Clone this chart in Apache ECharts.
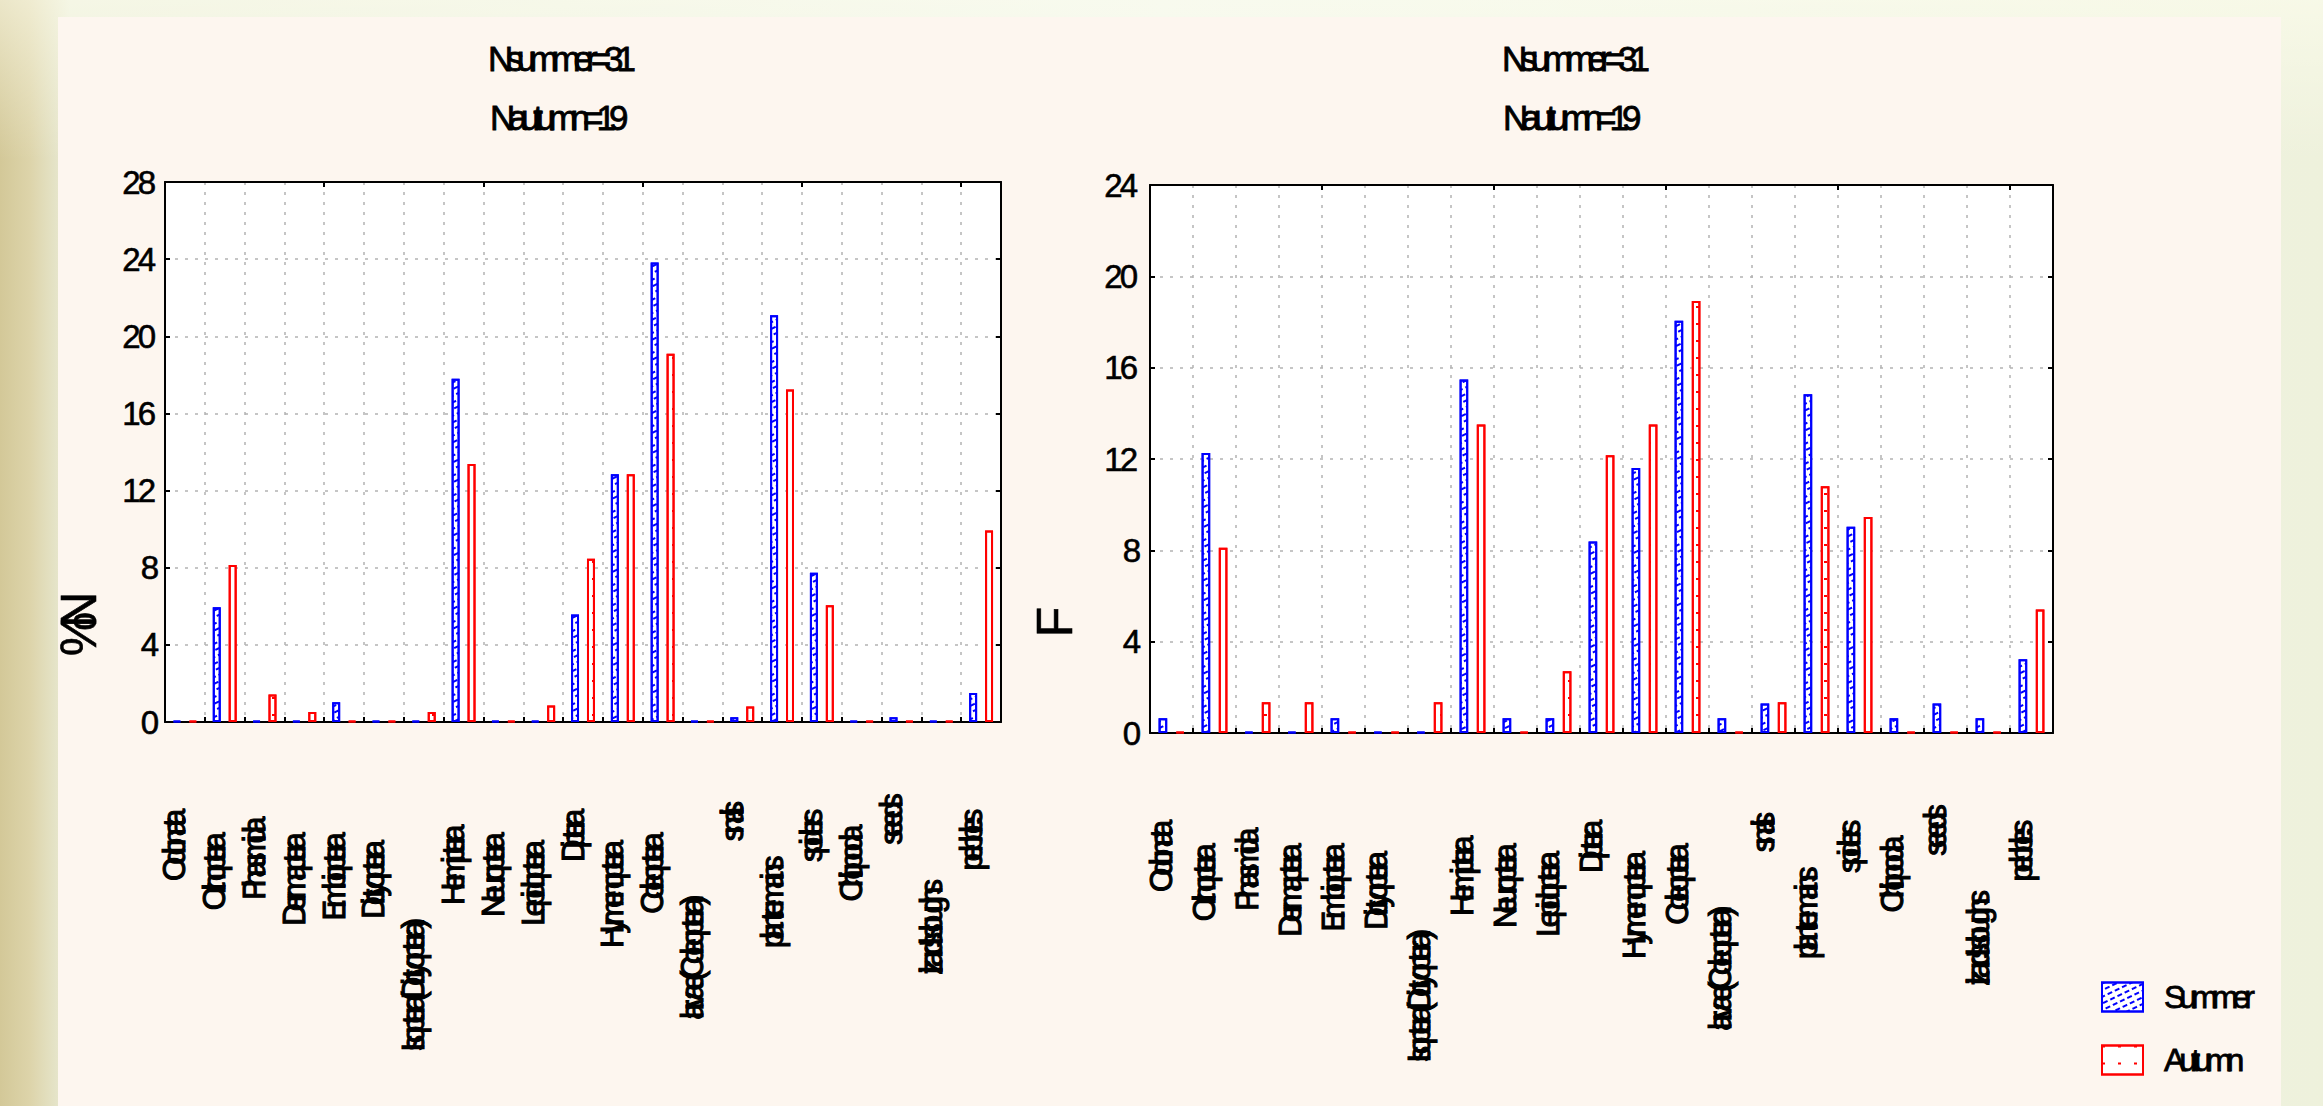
<!DOCTYPE html>
<html>
<head>
<meta charset="utf-8">
<script src="https://cdn.jsdelivr.net/npm/echarts@6.0.0/dist/echarts.min.js"></script>
<style>
html, body { margin: 0; padding: 0; width: 2323px; height: 1106px; overflow: hidden; }
body {
  background:
    linear-gradient(180deg, rgba(255,255,240,0.55) 0px, rgba(255,255,240,0) 160px),
    linear-gradient(90deg, #d3c898 0px, #ddd4aa 30px, #e9ecd8 70px, #f0f5ec 50%, #eef1dc 100%);
}
#panel { position: absolute; left: 58px; top: 17px; width: 2223px; height: 1089px; background: #fdf6ef; }
#chart { position: absolute; left: 0; top: 0; width: 2323px; height: 1106px; }
/* the original renders every string with tightly packed, heavy letters */
#chart text[style*="31px"] { letter-spacing: -7.8px; stroke: #000; stroke-width: 1.1px; }
#chart text[style*="33px"] { letter-spacing: -3px; stroke: #000; stroke-width: 0.6px; }
#chart text[style*="35px"] { letter-spacing: -7px; stroke: #000; stroke-width: 0.8px; }
#chart text[style*="32px"] { letter-spacing: -6px; stroke: #000; stroke-width: 0.8px; }
#chart text[style*="50px"] { letter-spacing: -16px; stroke: #000; stroke-width: 0.6px; }
</style>
</head>
<body>
<div id="panel"></div>
<div id="chart"></div>
<script>
// ---- data ----
const categories = [
  'Odonata', 'Orthoptera', 'Phasmida', 'Dermaptera', 'Embioptera', 'Dictyoptera',
  'Isoptera(Dictyoptera)', 'Hemiptera', 'Neuroptera', 'Lepidoptera', 'Diptera',
  'Hymenoptera', 'Coleoptera', 'larvae(Coleoptera)', 'snails', 'plant remains',
  'spiders', 'Chilopoda', 'seeds', "lizard's sloughs", 'pebbles'
];
const seriesNames = ['Summer', 'Autumn'];
const titleLines = ['Nsummer=31', 'Nautumn=19'];

// left panel: %N
const summerN = [0, 5.95, 0, 0, 1.03, 0, 0, 17.8, 0, 0, 5.57, 12.85, 23.83, 0, 0.25, 21.09, 7.74, 0, 0.25, 0, 1.5];
const autumnN = [0, 8.14, 1.43, 0.52, 0, 0, 0.52, 13.38, 0, 0.86, 8.47, 12.85, 19.09, 0, 0.8, 17.24, 6.06, 0, 0, 0, 9.93];
// right panel: F
const summerF = [0.65, 12.26, 0, 0, 0.65, 0, 0, 15.48, 0.65, 0.65, 8.39, 11.61, 18.06, 0.65, 1.29, 14.84, 9.03, 0.65, 1.29, 0.65, 3.23];
const autumnF = [0, 8.11, 1.35, 1.35, 0, 0, 1.35, 13.51, 0, 2.70, 12.16, 13.51, 18.92, 0, 1.35, 10.81, 9.46, 0, 0, 0, 5.41];

const yNameN = '%N';
const yNameF = 'F';
const yMaxN = 28, yMaxF = 24, yStep = 4;

// ---- styling ----
const FONT = "'Liberation Sans', Arial, sans-serif";
const BLUE = '#0000ff', RED = '#ff0000';
const GRIDC = '#b3b3b3';

const summerDecal = { symbol: 'rect', symbolSize: 1, color: BLUE, dashArrayX: [[5, 3]], dashArrayY: [2, 4], rotation: -Math.PI / 7 };
const autumnDecal = { symbol: 'rect', symbolSize: 1, color: RED, dashArrayX: [[3, 13]], dashArrayY: [2, 15], rotation: 0 };

function catAxis(gi, pos, withLabels) {
  return {
    type: 'category', gridIndex: gi, position: pos, data: categories,
    boundaryGap: true,
    axisLine: { show: true, onZero: false, lineStyle: { color: '#000', width: 2 } },
    axisTick: { show: true, inside: true, length: 5, lineStyle: { color: '#000', width: 2 } },
    splitLine: { show: withLabels, lineStyle: { color: GRIDC, width: 1.5, type: [3, 7] } },
    axisLabel: withLabels ? {
      show: true, interval: 0, rotate: 90, margin: 40, color: '#000',
      fontSize: 31, fontFamily: FONT,
      formatter: v => '{c|' + v + '}',
      rich: { c: { fontSize: 31, fontFamily: FONT, color: '#000', align: 'left', padding: [0, 0, 20, 0] } }
    } : { show: false }
  };
}

function valAxis(gi, pos, max, withLabels, name, nameGap, namePad, labelMargin) {
  return {
    type: 'value', gridIndex: gi, position: pos, min: 0, max: max, interval: yStep,
    name: withLabels ? name : '',
    nameLocation: 'middle', nameRotate: 90, nameGap: nameGap,
    nameTextStyle: { fontSize: 50, fontFamily: FONT, color: '#000', padding: [0, namePad, 0, 0] },
    axisLine: { show: true, onZero: false, lineStyle: { color: '#000', width: 2 } },
    axisTick: { show: true, inside: true, length: 5, lineStyle: { color: '#000', width: 2 } },
    splitLine: { show: withLabels, lineStyle: { color: GRIDC, width: 1.5, type: [3, 7] } },
    axisLabel: withLabels ? {
      show: true, margin: labelMargin, color: '#000', fontSize: 33, fontFamily: FONT,
      formatter: v => '{t|' + v + '}',
      rich: { t: { fontSize: 33, fontFamily: FONT, color: '#000', align: 'left' } }
    } : { show: false }
  };
}

function bar(name, data, xi, yi, color, decal) {
  return {
    type: 'bar', name: name, data: data, xAxisIndex: xi, yAxisIndex: yi,
    barWidth: '20%', barGap: '100%', barMinHeight: 1,
    itemStyle: { color: '#ffffff', borderColor: color, borderWidth: 2, decal: decal },
    emphasis: { disabled: true }, silent: true
  };
}

const titleStyle = { fontSize: 35, fontWeight: 'normal', fontFamily: FONT, color: '#000', lineHeight: 40 };

const chart = echarts.init(document.getElementById('chart'), null, { renderer: 'svg', width: 2323, height: 1106 });
chart.setOption({
  animation: false,
  backgroundColor: 'transparent',
  title: [
    { text: titleLines[0], left: 488, top: 38, padding: 0, textStyle: titleStyle },
    { text: titleLines[1], left: 490, top: 97, padding: 0, textStyle: titleStyle },
    { text: titleLines[0], left: 1502, top: 38, padding: 0, textStyle: titleStyle },
    { text: titleLines[1], left: 1503, top: 97, padding: 0, textStyle: titleStyle }
  ],
  legend: {
    orient: 'vertical', left: 2101, top: 981, padding: 0,
    itemWidth: 41, itemHeight: 29, itemGap: 31, icon: 'rect',
    selectedMode: false, data: seriesNames,
    textStyle: { fontSize: 32, fontFamily: FONT, color: '#000', padding: [0, 0, 0, 16] }
  },
  grid: [
    { left: 165, top: 182, width: 836, height: 540, show: true, backgroundColor: '#ffffff', borderWidth: 0, containLabel: false, outerBoundsMode: 'none' },
    { left: 1150, top: 185, width: 903, height: 548, show: true, backgroundColor: '#ffffff', borderWidth: 0, containLabel: false, outerBoundsMode: 'none' }
  ],
  xAxis: [
    catAxis(0, 'bottom', true),
    catAxis(0, 'top', false),
    catAxis(1, 'bottom', true),
    catAxis(1, 'top', false)
  ],
  yAxis: [
    valAxis(0, 'left', yMaxN, true, yNameN, 61, 360, 6),
    valAxis(0, 'right', yMaxN, false, '', 0, 0, 0),
    valAxis(1, 'left', yMaxF, true, yNameF, 70, 342, 9),
    valAxis(1, 'right', yMaxF, false, '', 0, 0, 0)
  ],
  series: [
    bar(seriesNames[0], summerN, 0, 0, BLUE, summerDecal),
    bar(seriesNames[1], autumnN, 0, 0, RED, autumnDecal),
    bar(seriesNames[0], summerF, 2, 2, BLUE, summerDecal),
    bar(seriesNames[1], autumnF, 2, 2, RED, autumnDecal)
  ]
});
</script>
</body>
</html>
